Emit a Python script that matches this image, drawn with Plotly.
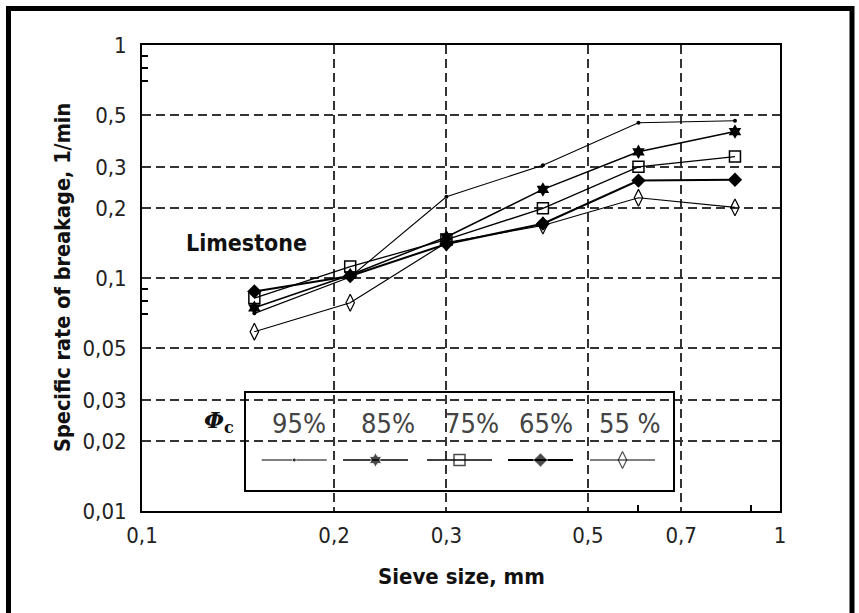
import plotly.graph_objects as go

# Sieve sizes (mm) and specific rates of breakage (1/min) for limestone
sieve_size = [0.15, 0.212, 0.3, 0.425, 0.6, 0.85]
phi_labels = ["95%", "85%", "75%", "65%", "55 %"]
rate_95 = [0.0705, 0.101, 0.223, 0.305, 0.464, 0.473]
rate_85 = [0.0745, 0.103, 0.150, 0.240, 0.348, 0.425]
rate_75 = [0.082, 0.112, 0.146, 0.199, 0.300, 0.332]
rate_65 = [0.0875, 0.102, 0.140, 0.171, 0.262, 0.264]
rate_55 = [0.0588, 0.0783, 0.142, 0.168, 0.221, 0.201]

x_tickvals = [0.1, 0.2, 0.3, 0.5, 0.7, 1]
x_ticktext = ["0,1", "0,2", "0,3", "0,5", "0,7", "1"]
y_tickvals = [0.01, 0.02, 0.03, 0.05, 0.1, 0.2, 0.3, 0.5, 1]
y_ticktext = ["0,01", "0,02", "0,03", "0,05", "0,1", "0,2", "0,3", "0,5", "1"]

NARROW = "DejaVu Sans Condensed, Liberation Sans Narrow, sans-serif"

W, H = 859, 613
L, R, T, B = 142, 79, 45, 102
PW, PH = W - L - R, H - T - B


def px(xpix):
    return (xpix - L) / PW


def py(ypix):
    return (H - B - ypix) / PH


series = [
    (rate_95, dict(symbol="circle", size=4, color="black"), 1.1),
    (rate_85, dict(symbol="hexagram", size=11, color="black"), 1.5),
    (rate_75, dict(symbol="square-open", size=11, color="black", line=dict(width=1.5)), 1.3),
    (rate_65, dict(symbol="diamond", size=11, color="black"), 2.0),
    (rate_55, dict(symbol="diamond-tall-open", size=12, color="black", line=dict(width=1.2)), 1.2),
]

fig = go.Figure()
for vals, mk, lw in series:
    fig.add_trace(go.Scatter(
        x=sieve_size, y=vals, mode="lines+markers",
        line=dict(color="black", width=lw), marker=mk,
        showlegend=False, hoverinfo="skip",
    ))

# key samples inside the boxed key (overlay axes in plot-fraction units)
sample_left = [261.7, 343, 427, 508, 590]
sample_width = 65
sample_y = py(460)
for (vals, mk, lw), x0 in zip(series, sample_left):
    xs = [px(x0), px(x0 + sample_width / 2), px(x0 + sample_width)]
    mk2 = dict(mk)
    mk2["size"] = [0, mk["size"], 0]
    fig.add_trace(go.Scatter(
        x=xs, y=[sample_y] * 3, mode="lines+markers",
        line=dict(color="black", width=lw), marker=mk2,
        xaxis="x2", yaxis="y2", showlegend=False, hoverinfo="skip",
    ))

grid = dict(gridcolor="#333333", gridwidth=2, griddash="9px,5px")
fig.update_layout(
    width=W, height=H,
    margin=dict(l=L, r=R, t=T, b=B),
    paper_bgcolor="white", plot_bgcolor="white",
    xaxis=dict(
        type="log", range=[-1, 0], tickmode="array",
        tickvals=x_tickvals, ticktext=x_ticktext, ticks="",
        showline=True, linecolor="black", linewidth=2, mirror=True,
        tickfont=dict(family=NARROW, size=22, color="#222"),
        ticklabelstandoff=4,
        minor=dict(tickvals=[0.6, 0.9], ticks="inside", ticklen=6,
                   tickwidth=2, tickcolor="black", showgrid=False),
        zeroline=False, **grid,
    ),
    yaxis=dict(
        type="log", range=[-2, 0], tickmode="array",
        tickvals=y_tickvals, ticktext=y_ticktext, ticks="",
        showline=True, linecolor="black", linewidth=2, mirror=True,
        tickfont=dict(family=NARROW, size=22, color="#222"),
        ticklabelstandoff=9,
        minor=dict(tickvals=[0.07, 0.08, 0.09, 0.7, 0.8, 0.9], ticks="inside",
                   ticklen=6, tickwidth=2, tickcolor="black", showgrid=False),
        zeroline=False, **grid,
    ),
    xaxis2=dict(overlaying="x", range=[0, 1], visible=False, anchor="y2"),
    yaxis2=dict(overlaying="y", range=[0, 1], visible=False, anchor="x2"),
)

annotations = [
    dict(text="<b>Specific rate of breakage, 1/min</b>", x=px(62), y=py(278),
         textangle=-90, font=dict(family=NARROW, size=21.5, color="#111")),
    dict(text="<b>Sieve size, mm</b>", x=px(461), y=py(576),
         font=dict(family=NARROW, size=22, color="#111")),
    dict(text="<b>Limestone</b>", x=px(246), y=py(243),
         font=dict(family=NARROW, size=23, color="#111")),
    dict(text="<b><i>Φ</i><sub>c</sub></b>", x=px(219), y=py(421),
         font=dict(family="DejaVu Serif, Liberation Serif, serif", size=23, color="#111")),
]
for label, xc in zip(phi_labels, [299, 387.5, 472, 546, 629.5]):
    annotations.append(dict(text=label, x=px(xc), y=py(423),
                            font=dict(family=NARROW, size=27, color="#444")))
for a in annotations:
    a.update(xref="paper", yref="paper", showarrow=False,
             xanchor="center", yanchor="middle")
fig.update_layout(annotations=annotations)

fig.update_layout(shapes=[
    # boxed key
    dict(type="rect", xref="paper", yref="paper",
         x0=px(245), x1=px(674), y0=py(491), y1=py(392),
         line=dict(color="black", width=2), fillcolor="rgba(0,0,0,0)"),
    # outer frame
    dict(type="rect", xref="paper", yref="paper",
         x0=px(8.5), x1=px(852), y0=py(640), y1=py(8.5),
         line=dict(color="black", width=5), fillcolor="rgba(0,0,0,0)"),
])

fig.write_html("out.html")
